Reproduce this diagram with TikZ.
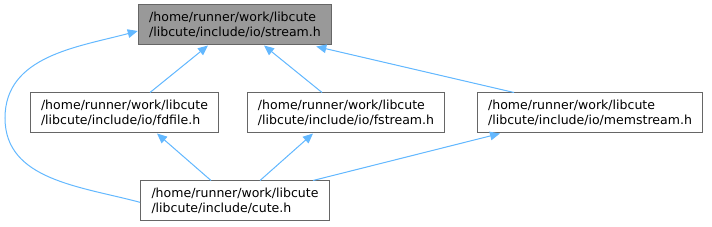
\documentclass[tikz,border=0pt]{standalone}
\usepackage{fontspec}
\setmainfont{DejaVu Sans}
\usepackage{xcolor}
\usetikzlibrary{arrows.meta, positioning}
\definecolor{edgeblue}{HTML}{63B8FF}
\definecolor{boxline}{HTML}{666666}
\definecolor{boxfill}{HTML}{999999}

\begin{document}
\begin{tikzpicture}[
  x=0.75pt, y=-0.75pt,
  fbox/.style = {draw=boxline, fill=white, align=left, line width=0.75pt,
                 minimum height=30pt, inner xsep=8.2pt, inner ysep=2pt,
                 font=\fontsize{9.4}{10.9}\selectfont},
  edge/.style = {{Triangle[length=7.5pt,width=6.5pt]}-, draw=edgeblue,
                 fill=edgeblue, line width=0.75pt}
]
\useasboundingbox (0,0) rectangle (712,227);
\node[fbox, fill=boxfill] (stream) at (235,25) {/home/runner/work/libcute\\/libcute/include/io/stream.h};
\node[fbox] (fdfile) at (124.5,113) {/home/runner/work/libcute\\/libcute/include/io/fdfile.h};
\node[fbox] (fstream) at (346,113) {/home/runner/work/libcute\\/libcute/include/io/fstream.h};
\node[fbox] (memstream) at (590,113) {/home/runner/work/libcute\\/libcute/include/io/memstream.h};
\node[fbox] (cute) at (235,201) {/home/runner/work/libcute\\/libcute/include/cute.h};
\coordinate (bend) at (5,118);
% includes
\draw[edge] (stream.south -| 208,0) -- (fdfile.north -| 150,0);
\draw[edge] (stream.south -| 264,0) -- (fstream.north -| 322,0);
\draw[edge] (stream.south east) ++(-16,1) coordinate (se) (se) -- (memstream.north -| 514,0);
\draw[edge] (fdfile.south -| 157,0) -- (cute.north -| 211,0);
\draw[edge] (fstream.south -| 313,0) -- (cute.north -| 260,0);
\draw[edge] (memstream.south -| 500,0) -- (cute.north -| 313,0);
\draw[edge, fill=none] ([yshift=-4.5pt]stream.west) to[out=195, in=90] (bend)
  to[out=-90, in=165] ([yshift=-1pt]cute.west);
\end{tikzpicture}
\end{document}
